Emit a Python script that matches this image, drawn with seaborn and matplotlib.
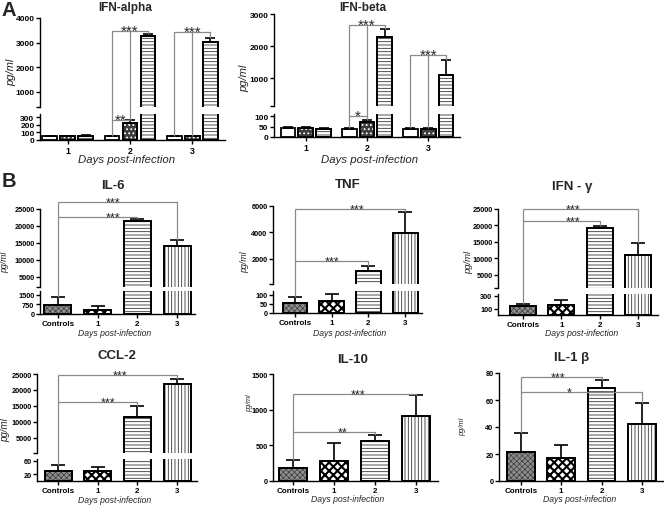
import matplotlib
matplotlib.use("Agg")
import numpy as np
import pandas as pd
import matplotlib.pyplot as plt
import seaborn as sns
from matplotlib.patches import Rectangle
from matplotlib.lines import Line2D

# ---------------- data ----------------
days_A = ["1", "2", "3"]
groups_A = ["group 1", "group 2", "group 3"]
ifn_alpha_mean = [[52, 50, 55], [50, 222, 3265], [48, 50, 3020]]
ifn_alpha_err = [[5, 5, 8], [8, 40, 80], [5, 5, 160]]
ifn_beta_mean = [[42, 42, 40], [40, 72, 2280], [40, 40, 1090]]
ifn_beta_err = [[5, 5, 3], [4, 10, 250], [4, 4, 470]]
# (day index, bracket height, stars)
ifn_alpha_sig = [(1, 3470, "***"), (2, 3430, "***")]
ifn_alpha_sig_small = [(1, 262, "**")]
ifn_beta_sig = [(1, 2650, "***"), (2, 1720, "***")]
ifn_beta_sig_small = [(1, 100, "*")]

cats_B = ["Controls", "1", "2", "3"]
il6_mean = [700, 320, 21500, 14100]
il6_err = [640, 310, 500, 1800]
tnf_mean = [58, 68, 1100, 3950]
tnf_err = [32, 37, 350, 1600]
ifng_mean = [140, 155, 19200, 11000]
ifng_err = [32, 80, 650, 3600]
ccl2_mean = [30, 30, 11500, 22000]
ccl2_err = [17, 11, 3500, 1400]
il10_mean = [180, 280, 565, 910]
il10_err = [115, 250, 80, 295]
il1b_mean = [21.5, 17, 69, 42]
il1b_err = [14, 10, 6, 16]
# (target index, bracket height, stars, star x position)
il6_sig = [(2, 22650, "***", 1.39), (3, 27000, "***", 1.39)]
tnf_sig = [(3, 5770, "***", 1.69), (2, 1850, "***", 1.0)]
ifng_sig = [(3, 25000, "***", 1.3), (2, 21400, "***", 1.3)]
ccl2_sig = [(3, 24700, "***", 1.56), (2, 16200, "***", 1.26)]
il10_sig = [(3, 1225, "***", 1.59), (2, 690, "**", 1.2)]
il1b_sig = [(2, 77, "***", 0.91), (3, 66, "*", 1.2)]

# ---------------- setup ----------------
sns.set_theme(style="ticks")
plt.rcParams["font.family"] = ["Liberation Sans", "DejaVu Sans"]
plt.rcParams["hatch.linewidth"] = 0.6
plt.rcParams["axes.linewidth"] = 1.0

W, H = 664, 506
fig = plt.figure(figsize=(W / 100, H / 100), dpi=100)
SIG_COLOR = "#8a8a8a"


def px_ax(l, t, r, b):
    ax = fig.add_axes([l / W, 1 - b / H, (r - l) / W, (b - t) / H])
    ax.patch.set_alpha(0)
    return ax


def apply_style(ax, bar, spec):
    bar.set_facecolor(spec["fc"])
    bar.set_edgecolor("black")
    if spec.get("hatch"):
        r = Rectangle(bar.get_xy(), bar.get_width(), bar.get_height(), fill=False,
                      edgecolor=spec["hc"], linewidth=0, hatch=spec["hatch"], zorder=2.1)
        if hasattr(r, "set_hatch_linewidth"):
            r.set_hatch_linewidth(spec.get("hlw", 0.6))
        ax.add_patch(r)
        e = Rectangle(bar.get_xy(), bar.get_width(), bar.get_height(), fill=False,
                      edgecolor="black", linewidth=1.3, zorder=2.2)
        ax.add_patch(e)


style_A = {
    "group 1": dict(fc="white"),
    "group 2": dict(fc="#3c3c3c", hatch="....", hc="white", hlw=0.8),
    "group 3": dict(fc="white", hatch="-----", hc="#333333", hlw=0.6),
}
style_B = {
    "Controls": dict(fc="#8e8e8e", hatch="xxxxxx", hc="#3a3a3a", hlw=0.5),
    "1": dict(fc="white", hatch="xxxx", hc="black", hlw=1.5),
    "2": dict(fc="white", hatch="-----", hc="#333333", hlw=0.6),
    "3": dict(fc="white", hatch="|||||", hc="#333333", hlw=0.6),
}


def style_axis(ax, xlim, ylim, yticks, cats, show_x, end_tick, xfont, yfont):
    ax.set_xlim(*xlim)
    ax.set_ylim(*ylim)
    for s in ["top", "right"]:
        ax.spines[s].set_visible(False)
    ax.spines["left"].set_color("black")
    ax.spines["left"].set_linewidth(1.0)
    ticks = list(yticks)
    labels = [str(t) for t in yticks]
    if end_tick:
        ticks = [ylim[0]] + ticks
        labels = [""] + labels
    ax.set_yticks(ticks)
    ax.set_yticklabels(labels, fontsize=yfont, fontweight="bold")
    ax.tick_params(axis="y", length=3, width=1, pad=1, colors="black")
    ax.set_xlabel("")
    ax.set_ylabel("")
    if show_x:
        ax.spines["bottom"].set_color("black")
        ax.spines["bottom"].set_linewidth(1.0)
        ax.set_xticks(range(len(cats)))
        ax.set_xticklabels(cats, fontsize=xfont, fontweight="bold")
        ax.tick_params(axis="x", length=3, width=1, pad=1.5, colors="black")
    else:
        ax.spines["bottom"].set_visible(False)
        ax.tick_params(axis="x", bottom=False, labelbottom=False)


def add_errorbars(ax, xs, means, errs, ylim, capsize):
    # only the bars whose error bar is actually inside this (possibly broken) axis
    sel = [k for k in range(len(xs)) if means[k] + errs[k] >= ylim[0] and means[k] <= ylim[1]]
    if not sel:
        return
    ax.errorbar([xs[k] for k in sel], [means[k] for k in sel],
                yerr=[np.zeros(len(sel)), [errs[k] for k in sel]], fmt="none",
                ecolor="black", elinewidth=1.2, capsize=capsize, capthick=1.2, zorder=3)


def fig_pt(axes, x, y):
    ax = axes[-1]
    if len(axes) == 2 and y > axes[1].get_ylim()[1]:
        ax = axes[0]
    d = ax.transData.transform((x, y))
    return fig.transFigure.inverted().transform(d)


def sig_line(axes, pts):
    p = np.array([fig_pt(axes, x, y) for x, y in pts])
    fig.add_artist(Line2D(p[:, 0], p[:, 1], transform=fig.transFigure,
                          color=SIG_COLOR, lw=0.9, solid_capstyle="butt"))


def sig_text(axes, x, y, text, fs):
    p = fig_pt(axes, x, y)
    fig.text(p[0], p[1] - 3.5 / H, text, ha="center", va="baseline", fontsize=fs)


def bar_patches(ax):
    bars = [p for p in ax.patches if isinstance(p, Rectangle)]
    return sorted(bars, key=lambda p: p.get_x())


# ---------------- panel A ----------------
def draw_A(mean, err, boxes, ylims, yticks, xlim):
    df = pd.DataFrame([(d, g, v) for d, row in zip(days_A, mean) for g, v in zip(groups_A, row)],
                      columns=["day", "group", "value"])
    axes = [px_ax(*b) for b in boxes]
    centers = None
    ng = len(groups_A)
    for i, ax in enumerate(axes):
        sns.barplot(data=df, x="day", y="value", hue="group", order=days_A, hue_order=groups_A,
                    palette={g: "white" for g in groups_A}, saturation=1, width=0.87, gap=0.17,
                    edgecolor="black", linewidth=1.3, errorbar=None, legend=False, ax=ax, zorder=2)
        bars = bar_patches(ax)
        centers = [[None] * len(days_A) for _ in groups_A]
        for k, b in enumerate(bars):
            d, gi = k // ng, k % ng
            centers[gi][d] = b.get_x() + b.get_width() / 2
            apply_style(ax, b, style_A[groups_A[gi]])
        for gi in range(ng):
            m = [row[gi] for row in mean]
            e = [row[gi] for row in err]
            add_errorbars(ax, centers[gi], m, e, ylims[i], 3.5)
        style_axis(ax, xlim, ylims[i], yticks[i], days_A, show_x=(i == 1), end_tick=(i == 0),
                   xfont=6.3, yfont=6.0)
    return axes, centers


alpha_axes, alpha_c = draw_A(ifn_alpha_mean, ifn_alpha_err,
                             [(40, 19, 225, 108), (40, 115, 225, 141)],
                             [(390, 4000), (0, 340)],
                             [[1000, 2000, 3000, 4000], [0, 100, 200, 300]], (-0.45, 2.53))
beta_axes, beta_c = draw_A(ifn_beta_mean, ifn_beta_err,
                           [(274, 15, 460, 107), (274, 115, 460, 138)],
                           [(125, 3000), (0, 110)],
                           [[1000, 2000, 3000], [0, 50, 100]], (-0.52, 2.52))


def brackets_A(axes, c, mean, err, sig, small):
    for d, h, txt in sig:
        tw = mean[d][0] + err[d][0]
        td = mean[d][1] + err[d][1]
        ts = mean[d][2] + err[d][2]
        sig_line(axes, [(c[0][d], tw), (c[0][d], h), (c[2][d], h), (c[2][d], ts)])
        sig_line(axes, [(c[1][d], td), (c[1][d], h)])
        sig_text(axes, c[1][d], h, txt, 11)
    for d, h, txt in small:
        sig_line(axes, [(c[0][d], h), (c[1][d], h)])
        sig_text(axes, (c[0][d] + c[1][d]) / 2, h, txt, 11)


# ---------------- panel B ----------------
B_panels = [
    dict(title="IL-6", mean=il6_mean, err=il6_err, sig=il6_sig,
         boxes=[(40, 210, 195, 288), (40, 292, 195, 315)], ylims=[(2000, 25000), (0, 1800)],
         yticks=[[5000, 10000, 15000, 20000, 25000], [0, 750, 1500]], xlim=(-0.45, 3.45),
         title_xy=(113, 186), xlab_xy=(115, 334), ylab_xy=(5, 262), ylab_fs=6.3),
    dict(title="TNF", mean=tnf_mean, err=tnf_err, sig=tnf_sig,
         boxes=[(273, 207, 422, 285), (273, 292, 422, 314)], ylims=[(110, 6000), (0, 122)],
         yticks=[[2000, 4000, 6000], [0, 50, 100]], xlim=(-0.6, 3.46),
         title_xy=(348, 185), xlab_xy=(350, 334), ylab_xy=(245, 262), ylab_fs=6.4),
    dict(title="IFN - \u03b3", mean=ifng_mean, err=ifng_err, sig=ifng_sig,
         boxes=[(498, 210, 658, 289), (498, 295, 658, 316)], ylims=[(1000, 25000), (0, 330)],
         yticks=[[5000, 10000, 15000, 20000, 25000], [100, 300]], xlim=(-0.65, 3.52),
         title_xy=(572, 187), xlab_xy=(582, 334), ylab_xy=(469, 262), ylab_fs=6.8),
    dict(title="CCL-2", mean=ccl2_mean, err=ccl2_err, sig=ccl2_sig,
         boxes=[(37, 375, 197, 454), (37, 460, 197, 482)], ylims=[(300, 25000), (0, 66)],
         yticks=[[5000, 10000, 15000, 20000, 25000], [20, 60]], xlim=(-0.53, 3.5),
         title_xy=(117, 356), xlab_xy=(115, 501), ylab_xy=(5, 430), ylab_fs=7.0),
    dict(title="IL-10", mean=il10_mean, err=il10_err, sig=il10_sig,
         boxes=[(273, 375, 438, 482)], ylims=[(0, 1500)],
         yticks=[[0, 500, 1000, 1500]], xlim=(-0.49, 3.54),
         title_xy=(353, 360), xlab_xy=(348, 500), ylab_xy=(250, 403), ylab_fs=5.2),
    dict(title="IL-1 \u03b2", mean=il1b_mean, err=il1b_err, sig=il1b_sig,
         boxes=[(499, 374, 663, 482)], ylims=[(0, 80)],
         yticks=[[0, 20, 40, 60, 80]], xlim=(-0.54, 3.52),
         title_xy=(572, 358), xlab_xy=(580, 500), ylab_xy=(463, 427), ylab_fs=5.4),
]


def draw_B(cfg):
    df = pd.DataFrame({"day": cats_B, "value": cfg["mean"]})
    axes = [px_ax(*b) for b in cfg["boxes"]]
    n = len(axes)
    centers = None
    for i, ax in enumerate(axes):
        sns.barplot(data=df, x="day", y="value", order=cats_B, color="white", saturation=1,
                    width=0.68, edgecolor="black", linewidth=1.3, errorbar=None, ax=ax, zorder=2)
        bars = bar_patches(ax)
        for b, cat in zip(bars, cats_B):
            apply_style(ax, b, style_B[cat])
        centers = [b.get_x() + b.get_width() / 2 for b in bars]
        add_errorbars(ax, centers, cfg["mean"], cfg["err"], cfg["ylims"][i], 5)
        style_axis(ax, cfg["xlim"], cfg["ylims"][i], cfg["yticks"][i], cats_B,
                   show_x=(i == n - 1), end_tick=(n == 2 and i == 0), xfont=5.8, yfont=5.3)
    return axes, centers


B_drawn = [draw_B(cfg) for cfg in B_panels]

# ---------------- annotations (after all limits are fixed) ----------------
brackets_A(alpha_axes, alpha_c, ifn_alpha_mean, ifn_alpha_err, ifn_alpha_sig, ifn_alpha_sig_small)
brackets_A(beta_axes, beta_c, ifn_beta_mean, ifn_beta_err, ifn_beta_sig, ifn_beta_sig_small)

for cfg, (axes, c) in zip(B_panels, B_drawn):
    m, e = cfg["mean"], cfg["err"]
    top_h = max(s[1] for s in cfg["sig"])
    sig_line(axes, [(c[0], m[0] + e[0]), (c[0], top_h)])
    for t, h, txt, tx in cfg["sig"]:
        sig_line(axes, [(c[0], h), (c[t], h), (c[t], m[t] + e[t])])
        sig_text(axes, tx, h, txt, 9)
    tx, ty = cfg["title_xy"]
    fig.text(tx / W, 1 - ty / H, cfg["title"], ha="center", va="center", fontsize=9.5,
             fontweight="bold")
    lx, ly = cfg["xlab_xy"]
    fig.text(lx / W, 1 - ly / H, "Days post-infection", ha="center", va="center",
             fontsize=6.2, style="italic")
    yx, yy = cfg["ylab_xy"]
    fig.text(yx / W, 1 - yy / H, "pg/ml", ha="center", va="center", rotation=90,
             fontsize=cfg["ylab_fs"], style="italic")

# panel A texts
fig.text(125 / W, 1 - 8 / H, "IFN-alpha", ha="center", va="center", fontsize=8.5, fontweight="bold")
fig.text(363 / W, 1 - 8 / H, "IFN-beta", ha="center", va="center", fontsize=8.5, fontweight="bold")
fig.text(127 / W, 1 - 160 / H, "Days post-infection", ha="center", va="center", fontsize=8.2,
         style="italic")
fig.text(370 / W, 1 - 160 / H, "Days post-infection", ha="center", va="center", fontsize=8.2,
         style="italic")
fig.text(11 / W, 1 - 72 / H, "pg/ml", ha="center", va="center", rotation=90, fontsize=8,
         style="italic")
fig.text(244 / W, 1 - 78 / H, "pg/ml", ha="center", va="center", rotation=90, fontsize=8,
         style="italic")
fig.text(2 / W, 1 - 1 / H, "A", ha="left", va="top", fontsize=14.5, fontweight="bold")
fig.text(2 / W, 1 - 172 / H, "B", ha="left", va="top", fontsize=14.5, fontweight="bold")

fig.savefig("out.png", dpi=100, facecolor="white")
